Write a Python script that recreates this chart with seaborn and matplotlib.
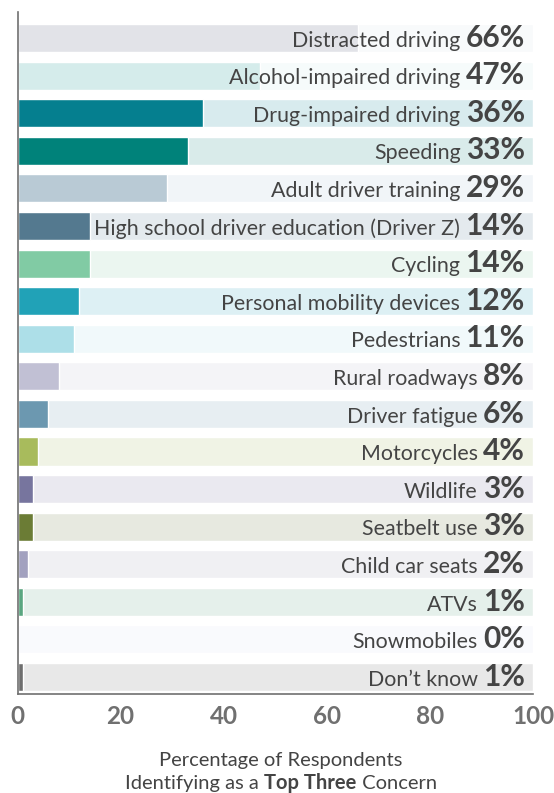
import matplotlib
matplotlib.use("Agg")
import matplotlib.pyplot as plt
import pandas as pd
import seaborn as sns

concerns = [
    "Distracted driving", "Alcohol-impaired driving", "Drug-impaired driving",
    "Speeding", "Adult driver training", "High school driver education (Driver Z)",
    "Cycling", "Personal mobility devices", "Pedestrians", "Rural roadways",
    "Driver fatigue", "Motorcycles", "Wildlife", "Seatbelt use",
    "Child car seats", "ATVs", "Snowmobiles", "Don\u2019t know",
]
percent = [66, 47, 36, 33, 29, 14, 14, 12, 11, 8, 6, 4, 3, 3, 2, 1, 0, 1]
bar_colors = [
    "#e2e3e8", "#d5eceb", "#057f8f", "#00827a", "#b9cad5", "#54798f",
    "#81cba4", "#21a2b7", "#addfe8", "#c1c0d4", "#6c98b0", "#a8bb5c",
    "#77759e", "#6b7c35", "#a2a1bf", "#5aa680", "#f4f6fb", "#6e6e6e",
]
bg_colors = [
    "#f8fafb", "#f6fbfb", "#d8ebee", "#d9ebea", "#f1f5f8", "#e4eaee",
    "#ebf6f0", "#ddf0f4", "#f1f9fb", "#f4f4f7", "#e7eef2", "#f0f3e5",
    "#eae9f0", "#e7e9e0", "#f0f0f3", "#e5f0eb", "#f9fafd", "#e8e8e8",
]

TEXT = "#444444"
AXIS = "#707070"


def main():
    df = pd.DataFrame({"concern": concerns, "percent": percent, "full": 100})

    sns.set_style("white")
    plt.rcParams["font.family"] = ["Lato", "DejaVu Sans"]

    fig = plt.figure(figsize=(5.54, 7.93), dpi=100)
    ax = fig.add_axes([17.5 / 554, 1 - 694 / 793, (533 - 17.5) / 554, (694 - 12) / 793])

    # background track, then the value bar
    sns.barplot(data=df, y="concern", x="full", hue="concern", palette=bg_colors,
                width=0.745, legend=False, ax=ax, orient="h", saturation=1)
    sns.barplot(data=df, y="concern", x="percent", hue="concern", palette=bar_colors,
                width=0.745, legend=False, ax=ax, orient="h", saturation=1)

    ax.set_xlim(0, 100)
    ax.set_ylim(17.45, -0.69)
    ax.set_yticks([])
    ax.set_ylabel("")
    ax.set_xlabel("")
    ax.set_xticks([0, 20, 40, 60, 80, 100])
    ax.tick_params(axis="x", direction="in", length=3.6, width=1, color=AXIS,
                   labelsize=17.5, labelcolor=AXIS, pad=8)
    for lab in ax.get_xticklabels():
        lab.set_fontweight("bold")
    ax.xaxis.get_major_ticks()[-1].tick1line.set_markersize(13)

    for side in ["top", "right"]:
        ax.spines[side].set_visible(False)
    for side in ["left", "bottom"]:
        ax.spines[side].set_color(AXIS)
        ax.spines[side].set_linewidth(1.2)

    # value numbers at the right, category names just left of them
    nums = []
    for i, (name, val) in enumerate(zip(concerns, percent)):
        t = ax.text(98.4, i + 0.23, f"{val}%", ha="right", va="baseline",
                    fontsize=21.5, fontweight="bold", color=TEXT)
        nums.append(t)
    fig.canvas.draw()
    r = fig.canvas.get_renderer()
    inv = ax.transData.inverted()
    for i, (name, t) in enumerate(zip(concerns, nums)):
        bb = t.get_window_extent(r)
        x0 = inv.transform((bb.x0, 0))[0]
        ax.text(x0 - 1.0, i + 0.23, name, ha="right", va="baseline",
                fontsize=15.4, color=TEXT)

    # two-line axis title with bold words
    cx = 281 / 554
    fig.text(cx, (793 - 765.7) / 793, "Percentage of Respondents", ha="center",
             va="baseline", fontsize=14.5, color=TEXT)
    y2 = (793 - 789) / 793
    parts = [("Identifying as a ", "normal"), ("Top Three", "bold"), (" Concern", "normal")]
    texts = [fig.text(0, y2, s, ha="left", va="baseline", fontsize=14.5,
                      fontweight=w, color=TEXT) for s, w in parts]
    fig.canvas.draw()
    widths = [t.get_window_extent(r).width for t in texts]
    x = cx * 554 - sum(widths) / 2
    for t, w in zip(texts, widths):
        t.set_x(x / 554)
        x += w

    fig.savefig("out.png", dpi=100)


if __name__ == "__main__":
    main()
